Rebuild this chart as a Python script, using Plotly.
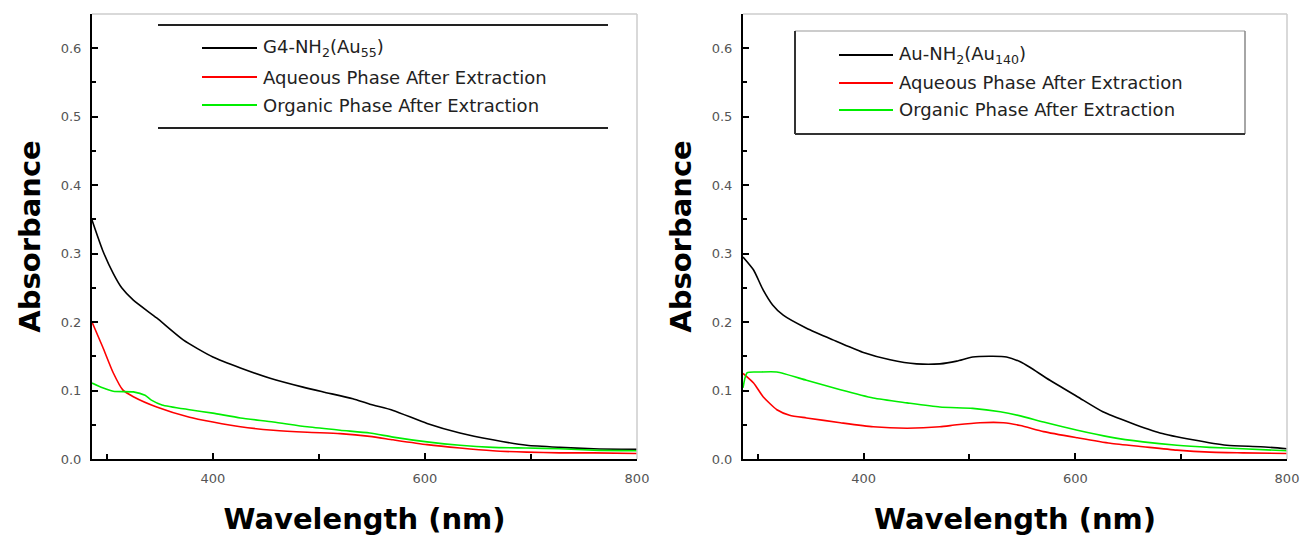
import plotly.graph_objects as go

# ---- Spectra: G4-NH2 dendrimer sample (left panel) ----
g4_black_x = [286, 296, 306, 314, 325, 347, 372, 400, 426, 454, 485, 504, 532, 548, 570, 602, 633, 664, 696, 727, 759, 800]
g4_black_y = [0.349, 0.305, 0.271, 0.250, 0.232, 0.206, 0.174, 0.149, 0.133, 0.118, 0.105, 0.098, 0.088, 0.080, 0.071, 0.052, 0.038, 0.028, 0.020, 0.017, 0.015, 0.014]

g4_aq_x = [286, 296, 306, 315, 325, 347, 378, 400, 426, 457, 489, 520, 548, 570, 602, 633, 664, 696, 727, 759, 800]
g4_aq_y = [0.200, 0.164, 0.126, 0.101, 0.091, 0.076, 0.061, 0.054, 0.047, 0.042, 0.039, 0.037, 0.033, 0.028, 0.021, 0.016, 0.012, 0.010, 0.009, 0.009, 0.008]

g4_org_x = [286, 296, 306, 325, 336, 342, 352, 378, 400, 426, 457, 489, 520, 548, 570, 602, 633, 664, 696, 727, 759, 800]
g4_org_y = [0.111, 0.104, 0.099, 0.098, 0.093, 0.086, 0.079, 0.072, 0.067, 0.060, 0.054, 0.047, 0.042, 0.038, 0.032, 0.025, 0.020, 0.017, 0.016, 0.015, 0.013, 0.012]

# ---- Spectra: Au-NH2 sample (right panel) ----
au_black_x = [286, 296, 305, 314, 324, 346, 371, 399, 425, 450, 472, 488, 503, 522, 535, 548, 557, 576, 602, 626, 652, 680, 711, 743, 775, 800]
au_black_y = [0.295, 0.276, 0.247, 0.225, 0.210, 0.191, 0.174, 0.156, 0.145, 0.139, 0.139, 0.143, 0.149, 0.150, 0.149, 0.142, 0.134, 0.115, 0.091, 0.069, 0.053, 0.038, 0.028, 0.020, 0.018, 0.015]

au_aq_x = [286, 296, 305, 318, 330, 346, 378, 409, 441, 472, 488, 510, 532, 548, 570, 602, 633, 664, 696, 727, 758, 800]
au_aq_y = [0.125, 0.111, 0.091, 0.072, 0.064, 0.060, 0.053, 0.047, 0.045, 0.047, 0.050, 0.053, 0.053, 0.049, 0.040, 0.031, 0.023, 0.018, 0.013, 0.010, 0.009, 0.008]

au_org_x = [286, 290, 302, 318, 346, 378, 409, 441, 472, 503, 529, 548, 570, 602, 633, 664, 696, 727, 758, 800]
au_org_y = [0.104, 0.126, 0.127, 0.127, 0.115, 0.101, 0.089, 0.082, 0.076, 0.074, 0.069, 0.063, 0.054, 0.042, 0.032, 0.025, 0.020, 0.017, 0.015, 0.012]

left_names = ["G4-NH<sub>2</sub>(Au<sub>55</sub>)", "Aqueous Phase After Extraction", "Organic Phase After Extraction"]
right_names = ["Au-NH<sub>2</sub>(Au<sub>140</sub>)", "Aqueous Phase After Extraction", "Organic Phase After Extraction"]
series_colors = ["#000000", "#ff0000", "#00ee00"]

x_range = [286, 800]
y_range = [0, 0.65]
x_tickvals = [400, 600, 800]
x_ticktext = ["400", "600", "800"]
y_tickvals = [0.0, 0.1, 0.2, 0.3, 0.4, 0.5, 0.6]
y_ticktext = ["0.0", "0.1", "0.2", "0.3", "0.4", "0.5", "0.6"]

W, H = 1315, 536


def px(x):
    return x / W


def py(y):
    return 1 - y / H


fig = go.Figure()

panels = [
    ("x", "y", [(g4_black_x, g4_black_y), (g4_aq_x, g4_aq_y), (g4_org_x, g4_org_y)], left_names),
    ("x2", "y2", [(au_black_x, au_black_y), (au_aq_x, au_aq_y), (au_org_x, au_org_y)], right_names),
]
for xa, ya, series, names in panels:
    for (sx, sy), name, col in zip(series, names, series_colors):
        fig.add_trace(go.Scatter(
            x=sx, y=sy, mode="lines", name=name, xaxis=xa, yaxis=ya,
            line=dict(color=col, width=1.6, shape="spline", smoothing=0.6),
            showlegend=False,
        ))

tick_font = dict(family="DejaVu Sans", size=13, color="#555555")
title_font = dict(family="DejaVu Sans", size=29, color="#000000")

x_common = dict(
    range=x_range, tickvals=x_tickvals, ticktext=x_ticktext, ticks="inside", ticklen=6,
    tickwidth=1.5, tickcolor="#000", showline=True, linecolor="#000", linewidth=2,
    showgrid=False, zeroline=False, tickfont=tick_font, ticklabelstandoff=6,
    minor=dict(tick0=300, dtick=100, ticks="inside", ticklen=5, tickcolor="#000", showgrid=False),
    title=dict(text="<b>Wavelength (nm)</b>", font=title_font, standoff=26),
    automargin=False,
)
y_common = dict(
    range=y_range, tickvals=y_tickvals, ticktext=y_ticktext, ticks="inside", ticklen=6,
    tickwidth=1.5, tickcolor="#000", showline=True, linecolor="#000", linewidth=2,
    showgrid=False, zeroline=False, tickfont=tick_font, ticklabelstandoff=6,
    minor=dict(dtick=0.05, ticks="inside", ticklen=4, tickcolor="#000"),
    title=dict(text="<b>Absorbance</b>", font=title_font, standoff=12),
    automargin=False,
)

left_dom = [px(92), px(637)]
right_dom = [px(743), px(1287)]
y_dom = [py(459), py(14)]

fig.update_layout(
    width=W, height=H, margin=dict(l=0, r=0, t=0, b=0),
    paper_bgcolor="white", plot_bgcolor="white",
    xaxis=dict(domain=left_dom, anchor="y", **x_common),
    yaxis=dict(domain=y_dom, anchor="x", **y_common),
    xaxis2=dict(domain=right_dom, anchor="y2", **x_common),
    yaxis2=dict(domain=y_dom, anchor="x2", **y_common),
    showlegend=False,
)

shapes = []
# light frame on the top and right of each plot area
for l, r in [(92, 637), (743, 1287)]:
    shapes.append(dict(type="line", xref="paper", yref="paper", x0=px(l), x1=px(r), y0=py(14), y1=py(14),
                       line=dict(color="#cccccc", width=1.5)))
    shapes.append(dict(type="line", xref="paper", yref="paper", x0=px(r), x1=px(r), y0=py(14), y1=py(459),
                       line=dict(color="#cccccc", width=1.5)))

# left legend frame: top and bottom rules
for yy in (25, 128):
    shapes.append(dict(type="line", xref="paper", yref="paper", x0=px(158), x1=px(608), y0=py(yy), y1=py(yy),
                       line=dict(color="#222222", width=2)))
# right legend frame
shapes.append(dict(type="line", xref="paper", yref="paper", x0=px(795), x1=px(1245), y0=py(31), y1=py(31),
                   line=dict(color="#bbbbbb", width=1.5)))
shapes.append(dict(type="line", xref="paper", yref="paper", x0=px(1245), x1=px(1245), y0=py(31), y1=py(134),
                   line=dict(color="#888888", width=1.5)))
shapes.append(dict(type="line", xref="paper", yref="paper", x0=px(795), x1=px(795), y0=py(31), y1=py(134),
                   line=dict(color="#333333", width=2)))
shapes.append(dict(type="line", xref="paper", yref="paper", x0=px(795), x1=px(1245), y0=py(134), y1=py(134),
                   line=dict(color="#333333", width=2)))

annotations = []
legend_font = dict(family="DejaVu Sans", size=18, color="#222222")
for names, lx0, lx1, tx, rows in [
    (left_names, 202, 257, 261, [48, 77, 105]),
    (right_names, 839, 893, 897, [55, 83, 110]),
]:
    for name, col, ry in zip(names, series_colors, rows):
        shapes.append(dict(type="line", xref="paper", yref="paper", x0=px(lx0), x1=px(lx1), y0=py(ry), y1=py(ry),
                           line=dict(color=col, width=2)))
        annotations.append(dict(text=name, xref="paper", yref="paper", x=px(tx), y=py(ry),
                                xanchor="left", yanchor="middle", showarrow=False, font=legend_font))

fig.update_layout(shapes=shapes, annotations=annotations)

fig.write_html("out.html")
